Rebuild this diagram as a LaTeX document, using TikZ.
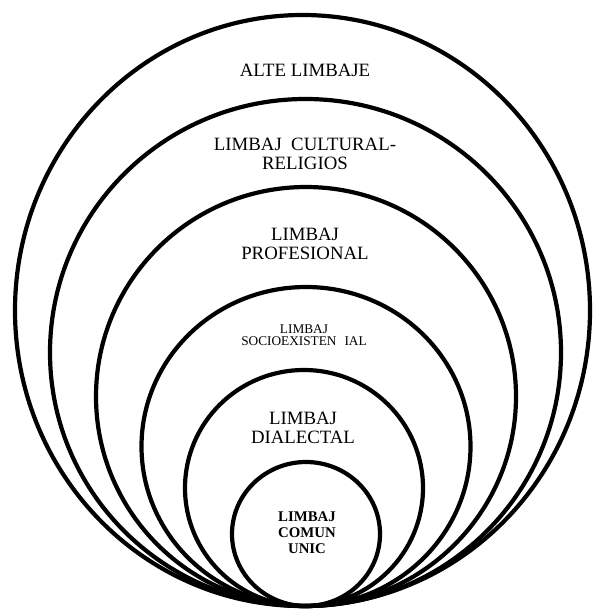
\documentclass[tikz,border=0pt]{standalone}
\usepackage{fontspec}
\setmainfont{Liberation Serif}
\begin{document}
\begin{tikzpicture}[x=1pt,y=-1pt,
  ring/.style={draw=black,line width=4.2pt},
  lbl/.style={inner sep=0pt,align=center,font=\fontsize{18.8}{19}\selectfont},
  small/.style={inner sep=0pt,align=center,font=\fontsize{13.3}{12}\selectfont},
  core/.style={inner sep=0pt,align=center,font=\fontsize{14.8}{16}\selectfont\bfseries}]
\useasboundingbox (0,0) rectangle (593,611);
% nested rings, all touching at the bottom
\draw[ring] (302.5,310.5) ellipse [x radius=287.5pt, y radius=295.5pt];
\draw[ring] (305.5,352.5) ellipse [x radius=255.5pt, y radius=253.5pt];
\draw[ring] (306,396.5) ellipse [x radius=210pt, y radius=209.5pt];
\draw[ring] (306,446.5) ellipse [x radius=164.5pt, y radius=159.5pt];
\draw[ring] (304,488) ellipse [x radius=119pt, y radius=118pt];
\draw[ring] (306,534) ellipse [x radius=74pt, y radius=72pt];
% labels
\node[lbl] (alte) at (305,70) {ALTE LIMBAJE};
\node[lbl] (cult) at (305,153.5) {LIMBAJ\ \ CULTURAL-\\RELIGIOS};
\node[lbl] (prof) at (305,244) {LIMBAJ\\PROFESIONAL};
\node[small] (socio) at (304,334.7) {LIMBAJ\\SOCIOEXISTEN\hspace{0.6em}IAL};
\node[lbl] (dial) at (303,427.5) {LIMBAJ\\DIALECTAL};
\node[core] (comun) at (307,533) {LIMBAJ\\COMUN\\UNIC};
\end{tikzpicture}
\end{document}
